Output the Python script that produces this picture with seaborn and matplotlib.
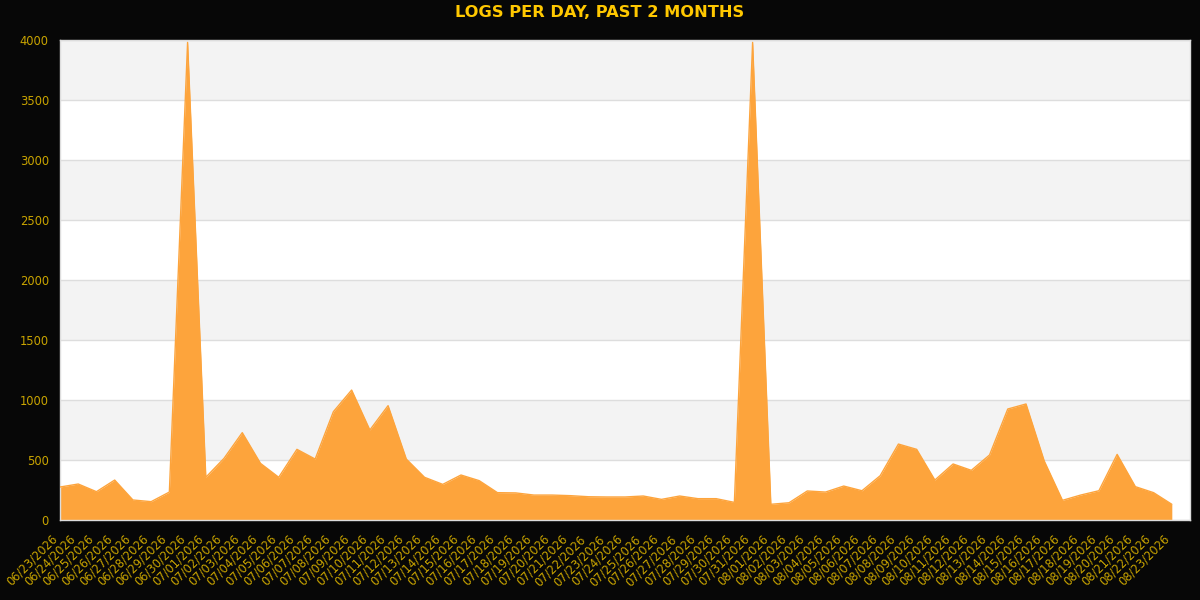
import numpy as np
import pandas as pd
import matplotlib
matplotlib.use('Agg')
import matplotlib.pyplot as plt
import seaborn as sns

# ------------ data ------------
dates = pd.date_range('2026-06-23', '2026-08-23', freq='D')
labels = [d.strftime('%m/%d/%Y') for d in dates]

logs = [275, 300, 236, 333, 167, 153, 233, 3980, 356, 514,
        728, 472, 356, 589, 508, 903, 1083, 750, 953, 508,
        356, 297, 375, 328, 228, 226, 208, 208, 203, 194,
        192, 192, 200, 172, 200, 178, 178, 147, 3980, 131,
        144, 242, 233, 283, 244, 369, 633, 589, 333, 467,
        414, 542, 925, 967, 492, 164, 208, 244, 547, 278,
        228, 131]

y_ticks = [0, 500, 1000, 1500, 2000, 2500, 3000, 3500, 4000]

df = pd.DataFrame({'idx': np.arange(len(labels)), 'day': labels, 'logs': logs})

# ------------ style ------------
sns.set_style('white')
plt.rcParams['font.family'] = ['DejaVu Sans']

bg = '#070707'
fill_col = '#fda43c'
tick_col = '#c9a400'

fig = plt.figure(figsize=(12, 6), dpi=100, facecolor=bg)
ax = fig.add_axes([0.05, 0.1333, 0.9417, 0.8])
ax.set_facecolor('white')

# alternating bands
for i in range(len(y_ticks) - 1):
    if i % 2 == 1:
        ax.axhspan(y_ticks[i], y_ticks[i + 1], color='#f3f3f3', zorder=0, lw=0)
for t in y_ticks:
    ax.axhline(t, color='#dddddd', lw=1, zorder=1)

# ------------ area ------------
ax.fill_between(df['idx'], df['logs'], color=fill_col, lw=0, zorder=2)
sns.lineplot(data=df, x='idx', y='logs', ax=ax, color=fill_col, lw=1, zorder=3)

ax.set_xlim(0, len(labels))
ax.set_ylim(0, 4000)
ax.set_yticks(y_ticks)
ax.set_xticks(df['idx'])
ax.set_xticklabels(labels, rotation=45, ha='right')
ax.tick_params(colors=tick_col, labelsize=8.3, length=0)
ax.tick_params(axis='x', pad=9)
ax.tick_params(axis='y', pad=8)
ax.set_xlabel('')
ax.set_ylabel('')
for s in ax.spines.values():
    s.set_color('#dddddd')
    s.set_linewidth(1)

fig.suptitle('LOGS PER DAY, PAST 2 MONTHS', color='#ffc800', fontsize=11.7,
             fontweight='bold', y=0.992)

fig.savefig('out.png', dpi=100, facecolor=bg)
